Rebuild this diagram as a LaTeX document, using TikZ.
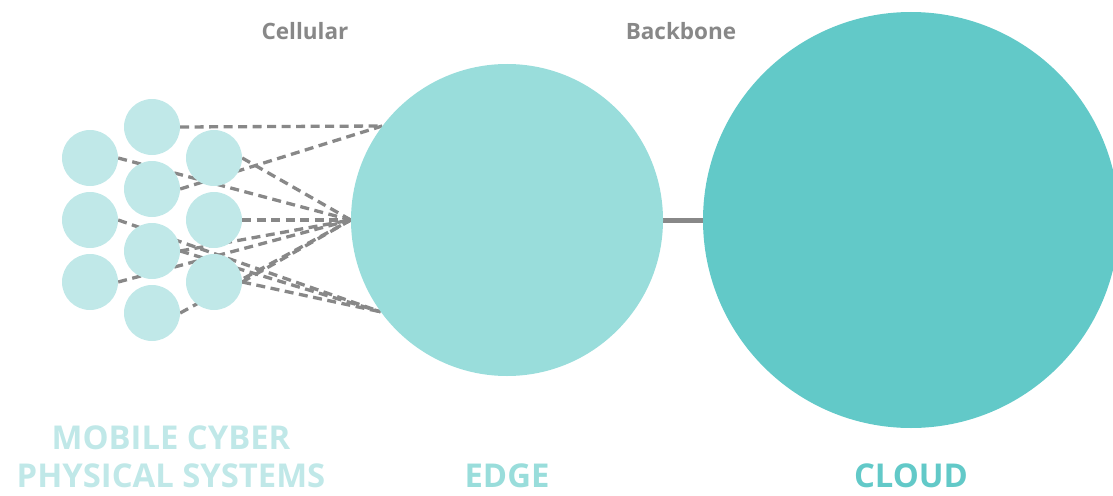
\documentclass[tikz,border=0pt]{standalone}
\usepackage{fontspec}
\setmainfont{Open Sans}
\usetikzlibrary{backgrounds}
\definecolor{mcpsc}{HTML}{C0E8E8}
\definecolor{edgec}{HTML}{99DDDB}
\definecolor{cloudc}{HTML}{62C9C8}
\definecolor{linec}{HTML}{888888}
\tikzset{
  mcps/.style={circle, fill=mcpsc, minimum size=56pt, inner sep=0pt},
  bigc/.style={circle, inner sep=0pt},
  link/.style={draw=linec, line width=3.3pt, dash pattern=on 9pt off 5.5pt},
  netlabel/.style={text=linec, font=\fontsize{22.5}{26}\selectfont\bfseries},
  catlabel/.style={font=\fontsize{32.8}{38}\selectfont\bfseries, align=center},
}
\begin{document}
\begin{tikzpicture}[x=1pt,y=-1pt]
\useasboundingbox (0,0) rectangle (1113,495);
% small circles
\node[mcps] (a1) at (90,158) {};
\node[mcps] (a2) at (90,220) {};
\node[mcps] (a3) at (90,282) {};
\node[mcps] (b1) at (152,127) {};
\node[mcps] (b2) at (152,189) {};
\node[mcps] (b3) at (152,251) {};
\node[mcps] (b4) at (152,313) {};
\node[mcps] (c1) at (214,158) {};
\node[mcps] (c2) at (214,220) {};
\node[mcps] (c3) at (214,282) {};
% big circles
\node[bigc, fill=edgec, minimum size=312pt] (edge) at (507,220) {};
\node[bigc, fill=cloudc, minimum size=416pt] (cloud) at (911,220) {};
\coordinate (T) at (edge.143.3);
\coordinate (B) at (edge.216.7);
\begin{scope}[on background layer]
\draw[link] (b1.east) -- (T);
\draw[link] (b2.east) -- (T);
\draw[link] (a1.east) -- (edge.west);
\draw[link] (c1.east) -- (edge.west);
\draw[link] (c2.east) -- (edge.west);
\draw[link] (b3.east) -- (edge.west);
\draw[link] (a3.east) -- (edge.west);
\draw[link] (c3.east) -- (edge.west);
\draw[link] (b4.east) -- (edge.west);
\draw[link] (a2.east) -- (B);
\draw[link] (b3.east) -- (B);
\draw[link] (c3.east) -- (B);
\draw[draw=linec, line width=5pt] (edge.east) -- (cloud.west);
\end{scope}
% labels
\node[netlabel] (cell) at (305,31) {Cellular};
\node[netlabel] (back) at (681,31) {Backbone};
\node[catlabel, text=mcpsc] (mlab) at (171,457) {MOBILE CYBER\\PHYSICAL SYSTEMS};
\node[catlabel, text=edgec] (elab) at (507,476) {EDGE};
\node[catlabel, text=cloudc] (clab) at (911,476) {CLOUD};
\end{tikzpicture}
\end{document}
